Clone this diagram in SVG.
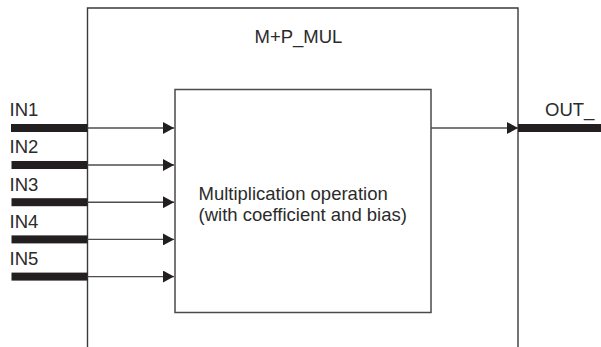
<svg xmlns="http://www.w3.org/2000/svg" width="601" height="347" viewBox="0 0 601 347">
<style>
text{font-family:"Liberation Sans",Arial,sans-serif;font-size:18.5px;fill:#2b2b2b}
.box{fill:none;stroke:#3a3a3a;stroke-width:1.4}
.inner{fill:#fff;stroke:#4a4a4a;stroke-width:1.5}
.wire{stroke:#4d4d4d;stroke-width:1.4;fill:none}
.bar{fill:#231f20}
</style>
<defs>
<marker id="ah" markerWidth="12" markerHeight="12" refX="11" refY="6" orient="auto" markerUnits="userSpaceOnUse">
<path d="M0,0 L11,6 L0,12 Z" fill="#231f20"/>
</marker>
</defs>
<g id="fb">
<path class="box" d="M87.5,347 V8 H518 V347"/>
<text x="254.5" y="43">M+P_MUL</text>
</g>
<g id="op">
<rect class="inner" x="175" y="89.5" width="256" height="223"/>
<text x="198.5" y="199.5">Multiplication operation</text>
<text x="198.5" y="221">(with coefficient and bias)</text>
</g>
<g id="in1"><rect class="bar" x="11" y="124" width="76.5" height="8"/><text x="9.5" y="116">IN1</text></g>
<g id="in2"><rect class="bar" x="11.5" y="161" width="76" height="8"/><text x="9.5" y="153">IN2</text></g>
<g id="in3"><rect class="bar" x="11.5" y="198.2" width="76" height="8"/><text x="9.5" y="190.5">IN3</text></g>
<g id="in4"><rect class="bar" x="11.5" y="235.4" width="76" height="8"/><text x="9.5" y="227.5">IN4</text></g>
<g id="in5"><rect class="bar" x="11.5" y="272.6" width="76" height="8"/><text x="9.5" y="265">IN5</text></g>
<g id="out"><rect class="bar" x="518" y="124" width="83" height="8"/><text x="545" y="116">OUT_</text></g>
<g id="connectors">
<path class="wire" d="M87.5,128 H174" marker-end="url(#ah)"/>
<path class="wire" d="M87.5,165 H174" marker-end="url(#ah)"/>
<path class="wire" d="M87.5,202.2 H174" marker-end="url(#ah)"/>
<path class="wire" d="M87.5,239.4 H174" marker-end="url(#ah)"/>
<path class="wire" d="M87.5,276.6 H174" marker-end="url(#ah)"/>
<path class="wire" d="M431,128 H518" marker-end="url(#ah)"/>
</g>
</svg>
